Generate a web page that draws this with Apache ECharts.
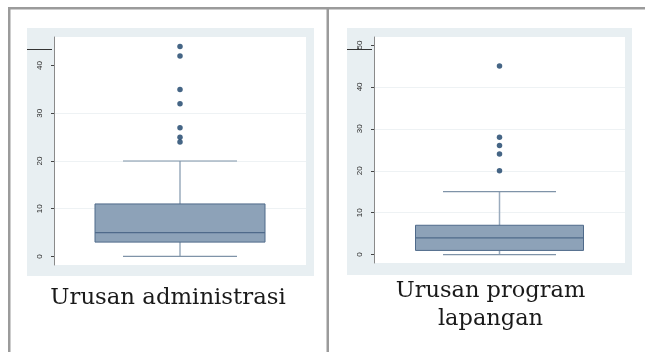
<!DOCTYPE html>
<html>
<head>
<meta charset="utf-8">
<script src="https://cdn.jsdelivr.net/npm/echarts@6/dist/echarts.min.js"></script>
<style>
  html, body { margin: 0; padding: 0; background: #ffffff; }
  #chart { width: 645px; height: 352px; }
</style>
</head>
<body>
<div id="chart"></div>
<script>
// ---- Data ----
const CATEGORIES = ['Urusan administrasi', 'Urusan program lapangan'];
const CAPTIONS = ['Urusan administrasi', 'Urusan program\nlapangan'];
// [min whisker, Q1, median, Q3, max whisker]
const ADMIN_BOX = [0, 3, 5, 11, 20];
const ADMIN_OUTLIERS = [24, 25, 27, 32, 35, 42, 44];
const FIELD_BOX = [0, 1, 4, 7, 15];
const FIELD_OUTLIERS = [20, 24, 26, 28, 45];
const ADMIN_TICKS = [0, 10, 20, 30, 40];
const FIELD_TICKS = [0, 10, 20, 30, 40, 50];

// ---- Styles ----
const BOX_FILL = '#8da2b8';
const BOX_LINE = '#4f6a8a';
const WHISKER = '#9aabbd';
const CAP = '#7f93a8';
const DOT = '#173f66';
const PANEL_BG = '#e8eff2';
const GRID_LINE = '#eef2f4';
const BORDER = '#9b9b9b';

const chart = echarts.init(document.getElementById('chart'), null, { renderer: 'canvas' });

function boxRenderer(halfBox, halfCap) {
  return function (params, api) {
    const x = api.value(0);
    const c = (v) => api.coord([x, v]);
    const pMin = c(api.value(1));
    const pQ1 = c(api.value(2));
    const pMed = c(api.value(3));
    const pQ3 = c(api.value(4));
    const pMax = c(api.value(5));
    const cx = pMin[0];
    const lineStyle = { stroke: WHISKER, lineWidth: 1.5 };
    return {
      type: 'group',
      children: [
        { type: 'line', shape: { x1: cx, y1: pQ3[1], x2: cx, y2: pMax[1] }, style: lineStyle },
        { type: 'line', shape: { x1: cx, y1: pQ1[1], x2: cx, y2: pMin[1] }, style: lineStyle },
        { type: 'line', shape: { x1: cx - halfCap, y1: pMax[1], x2: cx + halfCap, y2: pMax[1] }, style: { stroke: CAP, lineWidth: 1.2 } },
        { type: 'line', shape: { x1: cx - halfCap, y1: pMin[1], x2: cx + halfCap, y2: pMin[1] }, style: { stroke: CAP, lineWidth: 1.2 } },
        { type: 'rect', shape: { x: cx - halfBox, y: pQ3[1], width: 2 * halfBox, height: pQ1[1] - pQ3[1] },
          style: { fill: BOX_FILL, stroke: BOX_LINE, lineWidth: 1 } },
        { type: 'line', shape: { x1: cx - halfBox, y1: pMed[1], x2: cx + halfBox, y2: pMed[1] }, style: { stroke: BOX_LINE, lineWidth: 1.2 } }
      ]
    };
  };
}

function yAxis(gridIndex, min, max, ticks) {
  return {
    type: 'value',
    gridIndex: gridIndex,
    min: min,
    max: max,
    splitNumber: 5,
    axisLine: { show: true, lineStyle: { color: '#8a8a8a', width: 1 } },
    axisTick: { show: true, length: 3, lineStyle: { color: '#444' }, customValues: ticks },
    axisLabel: {
      rotate: 90, fontSize: 8, color: '#2a2a2a', margin: 10,
      fontFamily: 'Liberation Sans', customValues: ticks
    },
    splitLine: { show: true, showMinLine: false, showMaxLine: false, lineStyle: { color: GRID_LINE, width: 1 }, customValues: ticks }
  };
}

function xAxis(gridIndex, cat) {
  return {
    type: 'category', gridIndex: gridIndex, data: [cat],
    axisLine: { show: false }, axisTick: { show: false }, axisLabel: { show: false }, splitLine: { show: false }
  };
}

const option = {
  animation: false,
  backgroundColor: '#ffffff',
  grid: [
    { left: 54, top: 37, width: 252, height: 228, show: true, backgroundColor: '#ffffff', borderWidth: 0 },
    { left: 374, top: 37, width: 251, height: 226, show: true, backgroundColor: '#ffffff', borderWidth: 0 }
  ],
  xAxis: [xAxis(0, CATEGORIES[0]), xAxis(1, CATEGORIES[1])],
  yAxis: [yAxis(0, -1.8, 46, ADMIN_TICKS), yAxis(1, -2, 51.9, FIELD_TICKS)],
  graphic: [
    // table borders
    { type: 'rect', shape: { x: 8, y: 7, width: 637, height: 2.5 }, style: { fill: BORDER }, z: 10 },
    { type: 'rect', shape: { x: 8, y: 7, width: 2.5, height: 345 }, style: { fill: BORDER }, z: 10 },
    { type: 'rect', shape: { x: 326.5, y: 7, width: 2.5, height: 345 }, style: { fill: BORDER }, z: 10 },
    // panel backgrounds
    { type: 'rect', shape: { x: 27, y: 28, width: 287, height: 248 }, style: { fill: PANEL_BG }, z: -10 },
    { type: 'rect', shape: { x: 347, y: 28, width: 285, height: 247 }, style: { fill: PANEL_BG }, z: -10 },
    // stray dark marks at top left of each panel
    { type: 'line', shape: { x1: 27, y1: 49.5, x2: 52, y2: 49.5 }, style: { stroke: '#333', lineWidth: 1 }, z: 10 },
    { type: 'line', shape: { x1: 347, y1: 49.5, x2: 372, y2: 49.5 }, style: { stroke: '#333', lineWidth: 1 }, z: 10 },
    // captions
    { type: 'text', x: 168, y: 298, z: 10,
      style: { text: CAPTIONS[0], fontFamily: 'DejaVu Serif', fontSize: 22.8, fill: '#1a1a1a', align: 'center', verticalAlign: 'middle' } },
    { type: 'text', x: 490.5, y: 305, z: 10,
      style: { text: CAPTIONS[1], fontFamily: 'DejaVu Serif', fontSize: 22.5, lineHeight: 28, fill: '#1a1a1a', align: 'center', verticalAlign: 'middle' } }
  ],
  series: [
    { type: 'custom', xAxisIndex: 0, yAxisIndex: 0, renderItem: boxRenderer(85, 57),
      encode: { x: 0, y: [1, 2, 3, 4, 5] }, data: [[0].concat(ADMIN_BOX)], z: 2 },
    { type: 'custom', xAxisIndex: 1, yAxisIndex: 1, renderItem: boxRenderer(84, 56.5),
      encode: { x: 0, y: [1, 2, 3, 4, 5] }, data: [[0].concat(FIELD_BOX)], z: 2 },
    { type: 'scatter', xAxisIndex: 0, yAxisIndex: 0, symbol: 'circle', symbolSize: 5.5,
      itemStyle: { color: DOT }, data: ADMIN_OUTLIERS.map(v => [0, v]), z: 3 },
    { type: 'scatter', xAxisIndex: 1, yAxisIndex: 1, symbol: 'circle', symbolSize: 5.5,
      itemStyle: { color: DOT }, data: FIELD_OUTLIERS.map(v => [0, v]), z: 3 }
  ]
};

chart.setOption(option);
</script>
</body>
</html>
